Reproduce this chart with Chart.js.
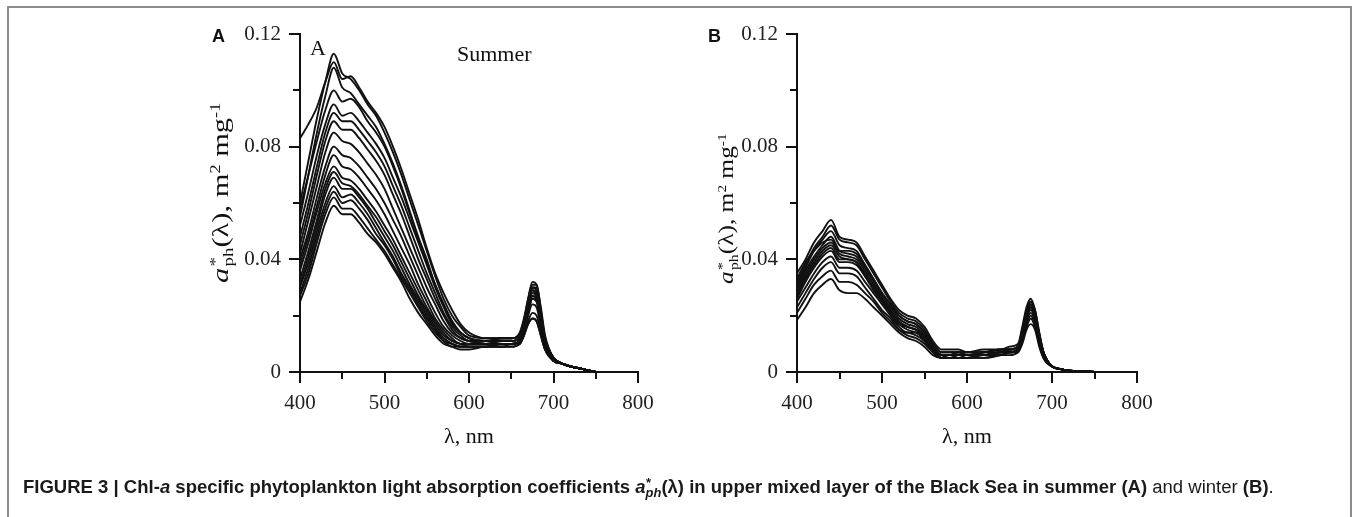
<!DOCTYPE html>
<html>
<head>
<meta charset="utf-8">
<script src="https://cdn.jsdelivr.net/npm/chart.js@4.4.0/dist/chart.umd.min.js"></script>
<style>
  html, body { margin:0; padding:0; background:#fff; }
  body { width:1358px; height:517px; position:relative; overflow:hidden; font-family:"Liberation Serif", serif; color:#111; }
  #frame { position:absolute; left:7px; top:6px; width:1345px; height:600px; border:2px solid #8c8c8c; box-sizing:border-box; }
  canvas { position:absolute; top:0; }
  #cA { left:0; }
  #cB { left:680px; }
  .abs { position:absolute; white-space:nowrap; }
  .panel { font-family:"Liberation Sans", Arial, sans-serif; font-weight:bold; font-size:18px; line-height:1; }
  .serif { font-family:"Liberation Serif", serif; line-height:1; }
  .ytitle { transform-origin: 0 0; line-height:1; }
  .ss { display:inline-block; vertical-align:-0.35em; font-size:0.62em; line-height:0.9; text-align:left; margin-left:1px; }
  .ss span { display:block; }
  sup.s { font-size:0.6em; vertical-align:0.55em; line-height:0; }
  #caption { position:absolute; left:23px; top:478px; font-family:"Liberation Sans Narrow","Liberation Sans",Arial,sans-serif; font-size:18px; white-space:nowrap; transform-origin:0 0; line-height:1.1; color:#1a1a1a; }
  #caption b { font-weight:bold; }
  #caption .normal { font-weight:normal; }
  .css { display:inline-block; vertical-align:-0.3em; font-size:0.7em; line-height:0.75; text-align:left; }
  .css span { display:block; }
</style>
</head>
<body>
<div id="frame"></div>
<canvas id="cA" width="680" height="517" style="width:680px;height:517px"></canvas>
<canvas id="cB" width="678" height="517" style="width:678px;height:517px"></canvas>

<div class="abs panel" style="left:212px; top:27px;">A</div>
<div class="abs panel" style="left:708px; top:27px;">B</div>
<div class="abs serif" style="left:310px; top:37px; font-size:22px;">A</div>
<div class="abs serif" style="left:457px; top:43px; font-size:22px;">Summer</div>

<div class="abs serif ytitle" id="ytA" style="font-size:23px;"><i>a</i><span class="ss"><span>*</span><span>ph</span></span>(λ), m<sup class="s">2</sup> mg<sup class="s">-1</sup></div>
<div class="abs serif ytitle" id="ytB" style="font-size:21px;"><i>a</i><span class="ss"><span>*</span><span>ph</span></span>(λ), m<sup class="s">2</sup> mg<sup class="s">-1</sup></div>

<div class="abs serif xt" id="xtA" style="font-size:22px;">λ, nm</div>
<div class="abs serif xt" id="xtB" style="font-size:22px;">λ, nm</div>

<div id="caption"><b>FIGURE 3 | Chl-<i>a</i> specific phytoplankton light absorption coefficients <i>a</i><span class="css"><span><i>*</i></span><span><i>ph</i></span></span>(λ) in upper mixed layer of the Black Sea in summer (A)</b><span class="normal"> and winter </span><b>(B)</b><span class="normal">.</span></div>

<script>
// ---------------- DATA ----------------
const wavelengths = [400,410,420,430,440,450,460,470,480,490,500,510,520,530,540,550,560,570,580,590,600,620,640,650,660,665,670,675,680,685,690,700,710,720,735,750];

const xTickValues = [400,450,500,550,600,650,700,750,800];
const xTickLabels = ['400','','500','','600','','700','','800'];
const yTickValues = [0,0.02,0.04,0.06,0.08,0.10,0.12];
const yTickLabels = ['0','','0.04','','0.08','','0.12'];

// Summer (panel A) spectra
const summer01 = [0.083,0.088,0.094,0.103,0.110,0.104,0.105,0.101,0.096,0.092,0.087,0.080,0.072,0.063,0.054,0.044,0.035,0.028,0.022,0.017,0.014,0.012,0.012,0.012,0.014,0.019,0.026,0.031,0.031,0.022,0.012,0.005,0.003,0.002,0.001,0.000];
const summer02 = [0.060,0.075,0.090,0.103,0.113,0.106,0.104,0.100,0.095,0.091,0.085,0.078,0.070,0.061,0.052,0.043,0.034,0.026,0.020,0.016,0.013,0.012,0.012,0.012,0.013,0.018,0.026,0.032,0.031,0.023,0.013,0.005,0.003,0.002,0.001,0.000];
const summer03 = [0.055,0.070,0.085,0.098,0.108,0.101,0.099,0.095,0.091,0.087,0.081,0.074,0.066,0.057,0.048,0.040,0.031,0.024,0.018,0.014,0.012,0.011,0.012,0.012,0.013,0.018,0.025,0.030,0.030,0.021,0.012,0.005,0.003,0.002,0.001,0.000];
const summer04 = [0.058,0.070,0.082,0.093,0.100,0.096,0.097,0.094,0.089,0.085,0.080,0.073,0.065,0.056,0.047,0.039,0.031,0.024,0.018,0.014,0.012,0.011,0.012,0.012,0.013,0.018,0.025,0.030,0.029,0.021,0.012,0.005,0.003,0.002,0.001,0.000];
const summer05 = [0.052,0.064,0.077,0.088,0.095,0.091,0.092,0.089,0.085,0.081,0.076,0.069,0.062,0.054,0.046,0.038,0.030,0.023,0.017,0.014,0.012,0.011,0.011,0.011,0.013,0.018,0.025,0.030,0.029,0.020,0.012,0.005,0.003,0.002,0.001,0.000];
const summer06 = [0.048,0.060,0.073,0.085,0.092,0.089,0.089,0.086,0.082,0.078,0.073,0.066,0.059,0.051,0.043,0.035,0.028,0.021,0.016,0.013,0.011,0.011,0.011,0.011,0.012,0.017,0.024,0.029,0.028,0.020,0.011,0.005,0.003,0.002,0.001,0.000];
const summer07 = [0.045,0.057,0.070,0.082,0.089,0.086,0.086,0.083,0.079,0.075,0.070,0.063,0.056,0.048,0.040,0.033,0.026,0.020,0.015,0.012,0.011,0.010,0.011,0.011,0.012,0.017,0.024,0.029,0.027,0.019,0.011,0.005,0.003,0.002,0.001,0.000];
const summer08 = [0.042,0.054,0.066,0.078,0.085,0.082,0.081,0.078,0.074,0.070,0.065,0.058,0.051,0.044,0.037,0.030,0.024,0.018,0.014,0.012,0.011,0.010,0.011,0.011,0.012,0.016,0.023,0.028,0.027,0.019,0.011,0.005,0.003,0.002,0.001,0.000];
const summer09 = [0.040,0.050,0.062,0.073,0.080,0.077,0.076,0.073,0.069,0.065,0.060,0.054,0.048,0.041,0.034,0.027,0.021,0.016,0.013,0.011,0.010,0.010,0.010,0.010,0.011,0.016,0.023,0.028,0.027,0.019,0.011,0.005,0.003,0.002,0.001,0.000];
const summer10 = [0.038,0.048,0.059,0.070,0.077,0.073,0.072,0.069,0.065,0.061,0.056,0.050,0.044,0.038,0.031,0.025,0.019,0.015,0.012,0.010,0.010,0.010,0.010,0.010,0.011,0.015,0.022,0.027,0.026,0.018,0.010,0.004,0.003,0.002,0.001,0.000];
const summer11 = [0.036,0.046,0.057,0.067,0.073,0.069,0.068,0.065,0.061,0.057,0.052,0.047,0.041,0.035,0.029,0.023,0.018,0.014,0.011,0.010,0.010,0.010,0.010,0.010,0.011,0.015,0.022,0.027,0.026,0.018,0.010,0.004,0.003,0.002,0.001,0.000];
const summer12 = [0.033,0.043,0.054,0.065,0.071,0.067,0.066,0.063,0.059,0.055,0.050,0.045,0.039,0.033,0.027,0.022,0.017,0.013,0.011,0.010,0.009,0.009,0.010,0.010,0.011,0.015,0.021,0.026,0.025,0.018,0.010,0.004,0.003,0.002,0.001,0.000];
const summer13 = [0.031,0.041,0.052,0.063,0.069,0.065,0.065,0.062,0.058,0.053,0.048,0.043,0.037,0.031,0.026,0.021,0.016,0.012,0.010,0.009,0.009,0.009,0.010,0.010,0.011,0.015,0.021,0.026,0.025,0.017,0.010,0.004,0.003,0.002,0.001,0.000];
const summer14 = [0.030,0.039,0.050,0.060,0.066,0.062,0.063,0.060,0.056,0.051,0.046,0.041,0.035,0.030,0.025,0.020,0.015,0.012,0.010,0.009,0.009,0.009,0.009,0.010,0.010,0.014,0.020,0.024,0.023,0.016,0.009,0.004,0.003,0.002,0.001,0.000];
const summer15 = [0.028,0.037,0.048,0.058,0.064,0.060,0.061,0.058,0.054,0.049,0.045,0.040,0.034,0.029,0.024,0.019,0.015,0.011,0.010,0.009,0.009,0.009,0.009,0.009,0.010,0.013,0.018,0.021,0.020,0.014,0.008,0.004,0.003,0.002,0.001,0.000];
const summer16 = [0.027,0.035,0.046,0.056,0.062,0.058,0.058,0.055,0.051,0.047,0.043,0.038,0.033,0.028,0.023,0.018,0.014,0.011,0.009,0.009,0.009,0.009,0.009,0.009,0.010,0.013,0.017,0.019,0.018,0.013,0.008,0.004,0.003,0.002,0.001,0.000];
const summer17 = [0.025,0.033,0.043,0.053,0.059,0.056,0.056,0.053,0.049,0.046,0.042,0.037,0.032,0.026,0.021,0.017,0.013,0.010,0.009,0.008,0.008,0.009,0.009,0.009,0.010,0.013,0.017,0.019,0.018,0.013,0.008,0.004,0.003,0.002,0.001,0.000];

// Winter (panel B) spectra
const winter01 = [0.035,0.040,0.046,0.050,0.054,0.048,0.047,0.046,0.041,0.036,0.031,0.026,0.022,0.020,0.019,0.016,0.011,0.008,0.008,0.008,0.007,0.008,0.008,0.009,0.010,0.016,0.023,0.026,0.022,0.014,0.007,0.002,0.001,0.0005,0.0002,0.000];
const winter02 = [0.032,0.038,0.044,0.048,0.052,0.047,0.046,0.045,0.040,0.035,0.030,0.025,0.021,0.019,0.018,0.015,0.010,0.007,0.007,0.007,0.007,0.007,0.008,0.008,0.009,0.015,0.022,0.025,0.022,0.014,0.007,0.002,0.001,0.0005,0.0002,0.000];
const winter03 = [0.031,0.037,0.043,0.047,0.050,0.045,0.044,0.043,0.038,0.033,0.028,0.024,0.020,0.018,0.017,0.014,0.010,0.007,0.007,0.007,0.007,0.007,0.008,0.008,0.009,0.015,0.021,0.025,0.021,0.013,0.007,0.002,0.001,0.0005,0.0002,0.000];
const winter04 = [0.030,0.036,0.041,0.045,0.048,0.043,0.042,0.041,0.037,0.032,0.027,0.023,0.019,0.017,0.016,0.013,0.009,0.006,0.006,0.007,0.006,0.007,0.007,0.008,0.009,0.014,0.021,0.024,0.021,0.013,0.007,0.002,0.001,0.0005,0.0002,0.000];
const winter05 = [0.033,0.039,0.043,0.046,0.047,0.043,0.043,0.042,0.038,0.033,0.028,0.024,0.020,0.018,0.017,0.014,0.009,0.006,0.006,0.007,0.006,0.007,0.008,0.008,0.009,0.014,0.021,0.024,0.021,0.013,0.007,0.002,0.001,0.0005,0.0002,0.000];
const winter06 = [0.029,0.035,0.040,0.044,0.046,0.042,0.041,0.040,0.036,0.031,0.026,0.022,0.018,0.016,0.015,0.013,0.009,0.006,0.006,0.006,0.006,0.006,0.007,0.008,0.009,0.014,0.020,0.024,0.020,0.013,0.006,0.002,0.001,0.0005,0.0002,0.000];
const winter07 = [0.028,0.034,0.039,0.043,0.045,0.041,0.040,0.039,0.035,0.030,0.026,0.022,0.018,0.016,0.015,0.012,0.008,0.006,0.006,0.006,0.006,0.006,0.007,0.007,0.008,0.013,0.020,0.023,0.020,0.012,0.006,0.002,0.001,0.0005,0.0002,0.000];
const winter08 = [0.027,0.033,0.038,0.042,0.044,0.040,0.040,0.039,0.034,0.030,0.025,0.021,0.017,0.016,0.015,0.012,0.008,0.006,0.006,0.006,0.006,0.006,0.007,0.007,0.008,0.013,0.019,0.023,0.019,0.012,0.006,0.002,0.001,0.0005,0.0002,0.000];
const winter09 = [0.026,0.032,0.037,0.041,0.043,0.039,0.039,0.038,0.034,0.029,0.025,0.021,0.017,0.015,0.014,0.012,0.008,0.006,0.005,0.006,0.006,0.006,0.007,0.007,0.008,0.013,0.019,0.022,0.019,0.012,0.006,0.002,0.001,0.0005,0.0002,0.000];
const winter10 = [0.025,0.030,0.035,0.039,0.041,0.037,0.037,0.036,0.032,0.028,0.024,0.020,0.016,0.014,0.014,0.011,0.008,0.005,0.005,0.006,0.005,0.006,0.006,0.007,0.008,0.012,0.018,0.021,0.018,0.011,0.006,0.002,0.001,0.0005,0.0002,0.000];
const winter11 = [0.023,0.028,0.033,0.037,0.039,0.035,0.035,0.034,0.030,0.026,0.022,0.019,0.015,0.014,0.013,0.011,0.007,0.005,0.005,0.005,0.005,0.006,0.006,0.007,0.008,0.012,0.017,0.020,0.017,0.011,0.005,0.002,0.001,0.0005,0.0002,0.000];
const winter12 = [0.021,0.026,0.031,0.034,0.036,0.032,0.032,0.031,0.028,0.025,0.021,0.018,0.015,0.013,0.012,0.010,0.007,0.005,0.005,0.005,0.005,0.005,0.006,0.007,0.007,0.011,0.016,0.019,0.016,0.010,0.005,0.002,0.001,0.0005,0.0002,0.000];
const winter13 = [0.0185,0.023,0.028,0.031,0.033,0.029,0.028,0.028,0.026,0.023,0.020,0.017,0.014,0.012,0.011,0.009,0.006,0.005,0.005,0.005,0.005,0.005,0.006,0.006,0.007,0.010,0.015,0.017,0.015,0.009,0.005,0.002,0.001,0.0005,0.0002,0.000];

const summerSeries = [summer01,summer02,summer03,summer04,summer05,summer06,summer07,summer08,summer09,summer10,summer11,summer12,summer13,summer14,summer15,summer16,summer17];
const winterSeries = [winter01,winter02,winter03,winter04,winter05,winter06,winter07,winter08,winter09,winter10,winter11,winter12,winter13];

// ---------------- CHARTS ----------------
const tickFont = { family: 'Liberation Serif', size: 21 };

const tickMarks = {
  id: 'tickMarks',
  afterDraw(chart) {
    const { ctx } = chart;
    const x = chart.scales.x, y = chart.scales.y;
    const bottom = chart.chartArea.bottom, left = chart.chartArea.left;
    ctx.save();
    ctx.strokeStyle = '#111';
    ctx.lineWidth = 2;
    ctx.lineCap = 'butt';
    xTickValues.forEach((v, i) => {
      const px = Math.round(x.getPixelForValue(v));
      const len = xTickLabels[i] ? 11 : 7;
      ctx.beginPath(); ctx.moveTo(px, bottom); ctx.lineTo(px, bottom + len); ctx.stroke();
    });
    yTickValues.forEach((v, i) => {
      const py = Math.round(y.getPixelForValue(v));
      const len = yTickLabels[i] ? 11 : 7;
      ctx.beginPath(); ctx.moveTo(left, py); ctx.lineTo(left - len, py); ctx.stroke();
    });
    ctx.restore();
  }
};

function makeChart(id, series, yWidth, padRight) {
  const datasets = series.map((arr, k) => ({
    label: id + '-' + (k + 1),
    data: wavelengths.map((w, i) => ({ x: w, y: arr[i] })),
    borderColor: '#111',
    borderWidth: 1.9,
    pointRadius: 0,
    cubicInterpolationMode: 'monotone',
    fill: false
  }));
  return new Chart(document.getElementById(id), {
    type: 'line',
    data: { datasets },
    plugins: [tickMarks],
    options: {
      responsive: false,
      animation: false,
      devicePixelRatio: 1,
      layout: { padding: { left: 0, right: padRight, top: 34, bottom: 85 } },
      plugins: { legend: { display: false }, tooltip: { enabled: false } },
      scales: {
        x: {
          type: 'linear', min: 400, max: 800,
          afterFit(s) { s.height = 60; },
          afterBuildTicks(s) { s.ticks = xTickValues.map(v => ({ value: v })); },
          grid: { display: false, drawTicks: false },
          border: { display: true, color: '#111', width: 2 },
          ticks: {
            autoSkip: false, maxRotation: 0, padding: 19, color: '#222', font: tickFont,
            callback: (v) => xTickLabels[xTickValues.indexOf(v)] || ''
          }
        },
        y: {
          type: 'linear', min: 0, max: 0.12,
          afterFit(s) { s.width = yWidth; },
          afterBuildTicks(s) { s.ticks = yTickValues.map(v => ({ value: v })); },
          grid: { display: false, drawTicks: false },
          border: { display: true, color: '#111', width: 2 },
          ticks: {
            autoSkip: false, padding: 19, color: '#222', font: tickFont,
            callback: (v) => { const i = yTickValues.findIndex(t => Math.abs(t - v) < 1e-9); return i >= 0 ? yTickLabels[i] : ''; }
          }
        }
      }
    }
  });
}

const chartA = makeChart('cA', summerSeries, 300, 42);
const chartB = makeChart('cB', winterSeries, 117, 221);

// ---------------- TEXT PLACEMENT ----------------
function placeYTitle(el, cx, cy, len) {
  const w = el.offsetWidth, h = el.offsetHeight;
  const f = len / w;
  el.style.left = (cx - h / 2) + 'px';
  el.style.top = (cy + len / 2) + 'px';
  el.style.transform = 'rotate(-90deg) scaleX(' + f.toFixed(3) + ')';
}
function placeXTitle(el, cx, cy) {
  el.style.left = (cx - el.offsetWidth / 2) + 'px';
  el.style.top = (cy - el.offsetHeight / 2) + 'px';
}
const ca = chartA.chartArea, cb = chartB.chartArea;
placeYTitle(document.getElementById('ytA'), 222, 193, 180);
placeYTitle(document.getElementById('ytB'), 727, 209, 150);
placeXTitle(document.getElementById('xtA'), (ca.left + ca.right) / 2, 436);
placeXTitle(document.getElementById('xtB'), 680 + (cb.left + cb.right) / 2, 436);

const cap = document.getElementById('caption');
const capW = cap.offsetWidth;
cap.style.transform = 'scaleX(' + (1251 / capW).toFixed(4) + ')';
</script>
</body>
</html>
